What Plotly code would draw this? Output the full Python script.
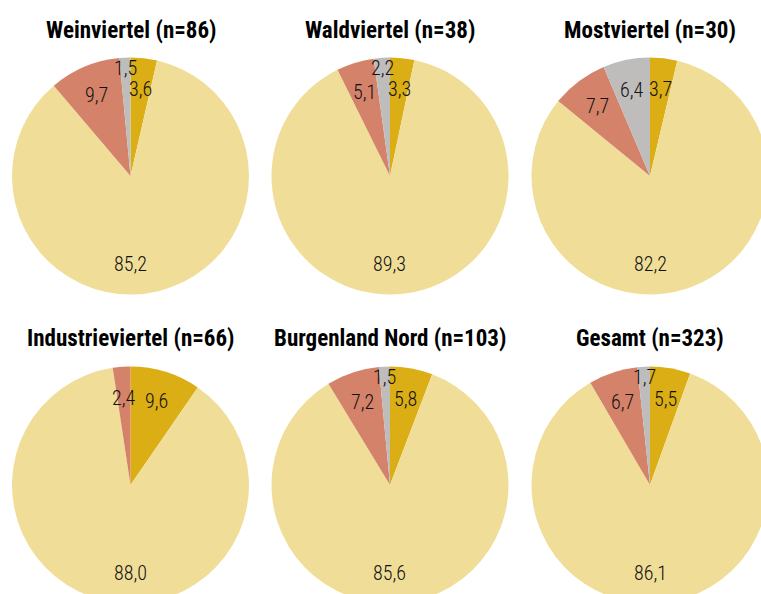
import math
import plotly.graph_objects as go

# ---- data ----
regions = ["Weinviertel", "Waldviertel", "Mostviertel",
           "Industrieviertel", "Burgenland Nord", "Gesamt"]
n_values = [86, 38, 30, 66, 103, 323]
categories = ["Kategorie 1", "Kategorie 2", "Kategorie 3", "Kategorie 4"]
cat1 = [3.6, 3.3, 3.7, 9.6, 5.8, 5.5]        # gold
cat2 = [85.2, 89.3, 82.2, 88.0, 85.6, 86.1]  # pale yellow
cat3 = [9.7, 5.1, 7.7, 2.4, 7.2, 6.7]        # salmon
cat4 = [1.5, 2.2, 6.4, 0.0, 1.5, 1.7]        # grey

# ---- style ----
colors = ["#DAAE14", "#F0DE98", "#D4836A", "#BEBDBC"]
W, H = 770, 606
R = 118.5
centers_x = [130.5, 390.0, 650.0]
centers_y = [176.0, 485.0]
title_y = [30.0, 338.0]
TITLE_FONT = "Liberation Sans Narrow, Roboto Condensed, DejaVu Sans Condensed, sans-serif"
LABEL_FONT = "Liberation Sans Narrow, Roboto Condensed, Roboto, sans-serif"

fig = go.Figure()
annotations = []
for i, reg in enumerate(regions):
    row, col = divmod(i, 3)
    cx, cy = centers_x[col], centers_y[row]
    vals = [cat1[i], cat2[i], cat3[i], cat4[i]]
    fig.add_trace(go.Pie(
        labels=categories, values=vals, sort=False, direction="clockwise",
        rotation=0, textinfo="none", hoverinfo="label+value",
        marker=dict(colors=colors, line=dict(color="white", width=0)),
        domain=dict(x=[(cx - R) / W, (cx + R) / W],
                    y=[1 - (cy + R) / H, 1 - (cy - R) / H]),
        showlegend=False,
    ))
    # title
    annotations.append(dict(
        text=f"<b>{reg} (n={n_values[i]})</b>", x=cx / W, y=1 - title_y[row] / H,
        xref="paper", yref="paper", xanchor="center", yanchor="middle",
        showarrow=False, font=dict(family=TITLE_FONT, size=23, color="black")))
    # value labels
    total = sum(vals)
    cum = 0.0
    for v in vals:
        if v > 0:
            mid = (cum + v / 2) / total * 2 * math.pi
            if v > 50:
                mid = math.pi
            rho = 0.91 if v < 2.3 else 0.74
            px = cx + rho * R * math.sin(mid)
            py = cy - rho * R * math.cos(mid)
            annotations.append(dict(
                text=f"{v:.1f}".replace(".", ","), x=px / W, y=1 - py / H,
                xref="paper", yref="paper", xanchor="center", yanchor="middle",
                showarrow=False,
                font=dict(family=LABEL_FONT, size=20, weight=300, color="#111111")))
        cum += v

fig.update_layout(
    width=W, height=H, margin=dict(l=0, r=0, t=0, b=0),
    paper_bgcolor="white", plot_bgcolor="white",
    annotations=annotations,
)

fig.write_html("out.html", config={"displayModeBar": False}, post_script=
    "document.body.style.margin='0';document.body.style.overflow='hidden';"
    "document.documentElement.style.overflow='hidden';")
